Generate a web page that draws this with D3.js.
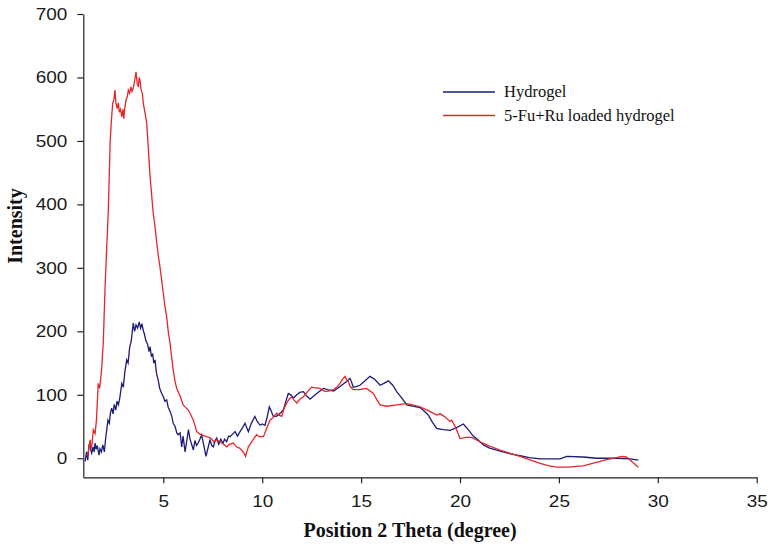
<!DOCTYPE html>
<html><head><meta charset="utf-8">
<script src="https://cdn.jsdelivr.net/npm/d3@7"></script>
<style>body{margin:0;background:#fff}svg{display:block}</style>
</head><body><svg id="c" width="774" height="548"></svg>
<script>
const hydrogelTheta = [1.05,1.12,1.18,1.24,1.3,1.34,1.38,1.45,1.5,1.55,1.6,1.66,1.75,1.8,1.87,1.94,2.02,2.08,2.14,2.2,2.27,2.33,2.39,2.46,2.52,2.6,2.66,2.73,2.8,2.9,2.98,3.05,3.15,3.22,3.3,3.38,3.48,3.55,3.62,3.7,3.78,3.85,3.92,3.98,4.05,4.12,4.2,4.28,4.33,4.4,4.46,4.52,4.58,4.65,4.74,4.82,4.92,5.0,5.08,5.17,5.25,5.33,5.43,5.5,5.6,5.68,5.75,5.85,5.93,6.0,6.1,6.18,6.27,6.35,6.45,6.52,6.6,6.68,6.76,6.85,6.94,7.05,7.16,7.25,7.36,7.45,7.53,7.62,7.7,7.8,7.9,8.02,8.1,8.2,8.3,8.38,8.5,8.63,8.75,8.88,9.0,9.13,9.22,9.3,9.45,9.63,9.75,9.89,10.0,10.14,10.25,10.36,10.45,10.56,10.7,10.81,10.95,11.07,11.2,11.32,11.45,11.57,11.75,11.9,12.08,12.25,12.42,12.6,12.76,12.92,13.09,13.3,13.6,13.8,13.93,14.1,14.27,14.44,14.52,14.6,14.75,14.94,15.2,15.45,15.7,15.96,16.15,16.38,16.6,16.8,17.05,17.31,17.6,17.98,18.2,18.4,18.6,18.82,19.0,19.16,19.5,19.8,20.17,20.4,20.67,20.9,21.18,21.5,21.86,22.4,23.03,23.5,24.05,25.06,25.4,26.23,26.91,27.92,28.6,29.02];
const hydrogelIntensity = [-5,10,-3,20,26,12,8,18,10,24,14,20,5,15,10,21,10,30,45,60,55,72,79,70,85,76,90,84,95,118,112,135,155,150,175,185,213,200,210,205,215,205,212,202,195,185,180,168,176,160,165,150,155,135,123,110,102,97,90,92,80,75,66,55,50,40,37,40,18,35,10,26,45,30,20,13,28,20,24,30,37,20,3,15,29,20,18,28,32,22,30,24,30,26,35,34,38,42,35,42,48,55,48,42,55,66,58,52,54,52,65,81,75,66,66,68,72,76,90,102,100,95,100,104,105,98,93,98,102,106,110,108,106,110,113,117,121,126,120,112,113,115,122,129,124,115,118,122,115,105,95,84,82,80,74,68,57,47,46,45,44,48,54,46,35,29,21,16,13,8,4,1,-1,-1,3,2,0,0,-1,-3];

const loadedTheta = [1.12,1.18,1.25,1.3,1.35,1.4,1.46,1.55,1.62,1.71,1.78,1.85,1.89,1.97,2.05,2.14,2.22,2.31,2.37,2.44,2.5,2.56,2.6,2.67,2.72,2.78,2.84,2.9,2.96,3.0,3.06,3.12,3.18,3.23,3.3,3.36,3.42,3.48,3.55,3.62,3.68,3.74,3.78,3.82,3.88,3.94,3.99,4.07,4.16,4.24,4.33,4.41,4.49,4.58,4.67,4.75,4.83,4.92,5.0,5.08,5.17,5.25,5.34,5.42,5.5,5.6,5.68,5.76,5.85,6.0,6.26,6.35,6.52,6.69,6.85,7.0,7.19,7.4,7.55,7.7,7.9,8.05,8.21,8.35,8.54,8.7,8.85,8.96,9.08,9.16,9.22,9.3,9.45,9.6,9.72,9.85,10.06,10.2,10.39,10.55,10.73,10.85,10.99,11.1,11.24,11.36,11.49,11.6,11.75,11.9,12.08,12.3,12.5,12.7,12.92,13.18,13.4,13.6,13.8,13.93,14.05,14.19,14.27,14.35,14.45,14.6,14.9,15.28,15.45,15.62,15.8,15.96,16.3,16.8,17.31,17.6,17.98,18.4,18.82,18.99,19.2,19.5,19.58,19.75,19.83,20.0,20.3,20.59,21.0,21.5,22.02,22.5,23.03,23.5,24.05,24.5,24.89,25.5,26.23,26.7,27.08,27.4,27.75,28.17,28.4,28.51,28.68,29.02];
const loadedIntensity = [5,5,18,29,15,24,45,39,60,118,110,130,144,186,265,333,391,496,530,559,565,580,560,551,560,545,550,538,550,535,554,565,570,580,575,585,578,583,595,609,590,585,600,596,580,575,559,545,528,490,444,415,386,365,339,318,302,280,260,240,223,200,181,160,139,120,110,104,98,84,76,71,60,42,38,36,34,32,26,29,25,22,18,22,24,18,16,13,8,3,10,18,25,32,37,34,34,45,60,64,71,68,66,78,87,93,97,92,87,93,97,105,112,111,110,105,106,108,113,118,124,129,124,121,113,108,108,110,106,102,92,84,82,84,86,84,81,75,68,70,66,58,60,50,45,31,33,33,26,19,13,8,3,-2,-8,-12,-14,-14,-12,-8,-5,-2,0,3,2,0,-5,-14];

const xTicks = [5,10,15,20,25,30,35];
const yTicks = [0,100,200,300,400,500,600,700];
const seriesNames = ["Hydrogel","5-Fu+Ru loaded hydrogel"];
const seriesColors = ["#1c1c78","#e3262c"];

const svg = d3.select("#c");
const x = d3.scaleLinear().domain([0.955,35]).range([83.3,756.7]);
const y = d3.scaleLinear().domain([-30,700]).range([477.3,14]);

const tickFont = "'Liberation Sans', Arial, sans-serif";
const serif = "'Liberation Serif', 'Times New Roman', serif";

const gx = svg.append("g").attr("transform","translate(0,477.3)")
  .call(d3.axisBottom(x).tickValues(xTicks).tickSize(6).tickSizeOuter(0).tickPadding(6));
const gy = svg.append("g").attr("transform","translate(83.3,0)")
  .call(d3.axisLeft(y).tickValues(yTicks).tickSize(6).tickSizeOuter(0).tickPadding(10));
[gx,gy].forEach(g=>{
  g.select(".domain").attr("stroke","#222").attr("stroke-width",1.2);
  g.selectAll(".tick line").attr("stroke","#222").attr("stroke-width",1.2);
  g.selectAll(".tick text").attr("font-family",tickFont).attr("font-size",16.5).attr("fill","#1a1a1a");
});
gx.selectAll(".tick text").attr("transform","scale(1.15,1)").attr("dy","1.05em");
gy.selectAll(".tick text").each(function(){
  const t=d3.select(this); const xx=+t.attr("x");
  t.attr("transform",`translate(${xx},0) scale(1.15,1) translate(${-xx},0)`);
});

const line = d3.line().x(d=>x(d[0])).y(d=>y(d[1]));
const hyd = hydrogelTheta.map((t,i)=>[t,hydrogelIntensity[i]]);
const lod = loadedTheta.map((t,i)=>[t,loadedIntensity[i]]);
svg.append("path").datum(hyd).attr("d",line).attr("fill","none").attr("stroke",seriesColors[0]).attr("stroke-width",1.3);
svg.append("path").datum(lod).attr("d",line).attr("fill","none").attr("stroke",seriesColors[1]).attr("stroke-width",1.3);

// legend
const lg = svg.append("g");
seriesNames.forEach((n,i)=>{
  const yy = 92 + i*23.5;
  lg.append("line").attr("x1",443).attr("x2",495).attr("y1",yy).attr("y2",yy)
    .attr("stroke",seriesColors[i]).attr("stroke-width",1.3);
  lg.append("text").attr("x",504).attr("y",yy+5).attr("font-family",serif)
    .attr("font-size",16.5).attr("fill","#111").text(n);
});

svg.append("text").attr("x",410).attr("y",537).attr("text-anchor","middle")
  .attr("font-family",serif).attr("font-weight","bold").attr("font-size",20).attr("fill","#111")
  .text("Position 2 Theta (degree)");
svg.append("text").attr("transform","translate(22,226) rotate(-90)").attr("text-anchor","middle")
  .attr("font-family",serif).attr("font-weight","bold").attr("font-size",20).attr("fill","#111")
  .text("Intensity");
</script></body></html>
